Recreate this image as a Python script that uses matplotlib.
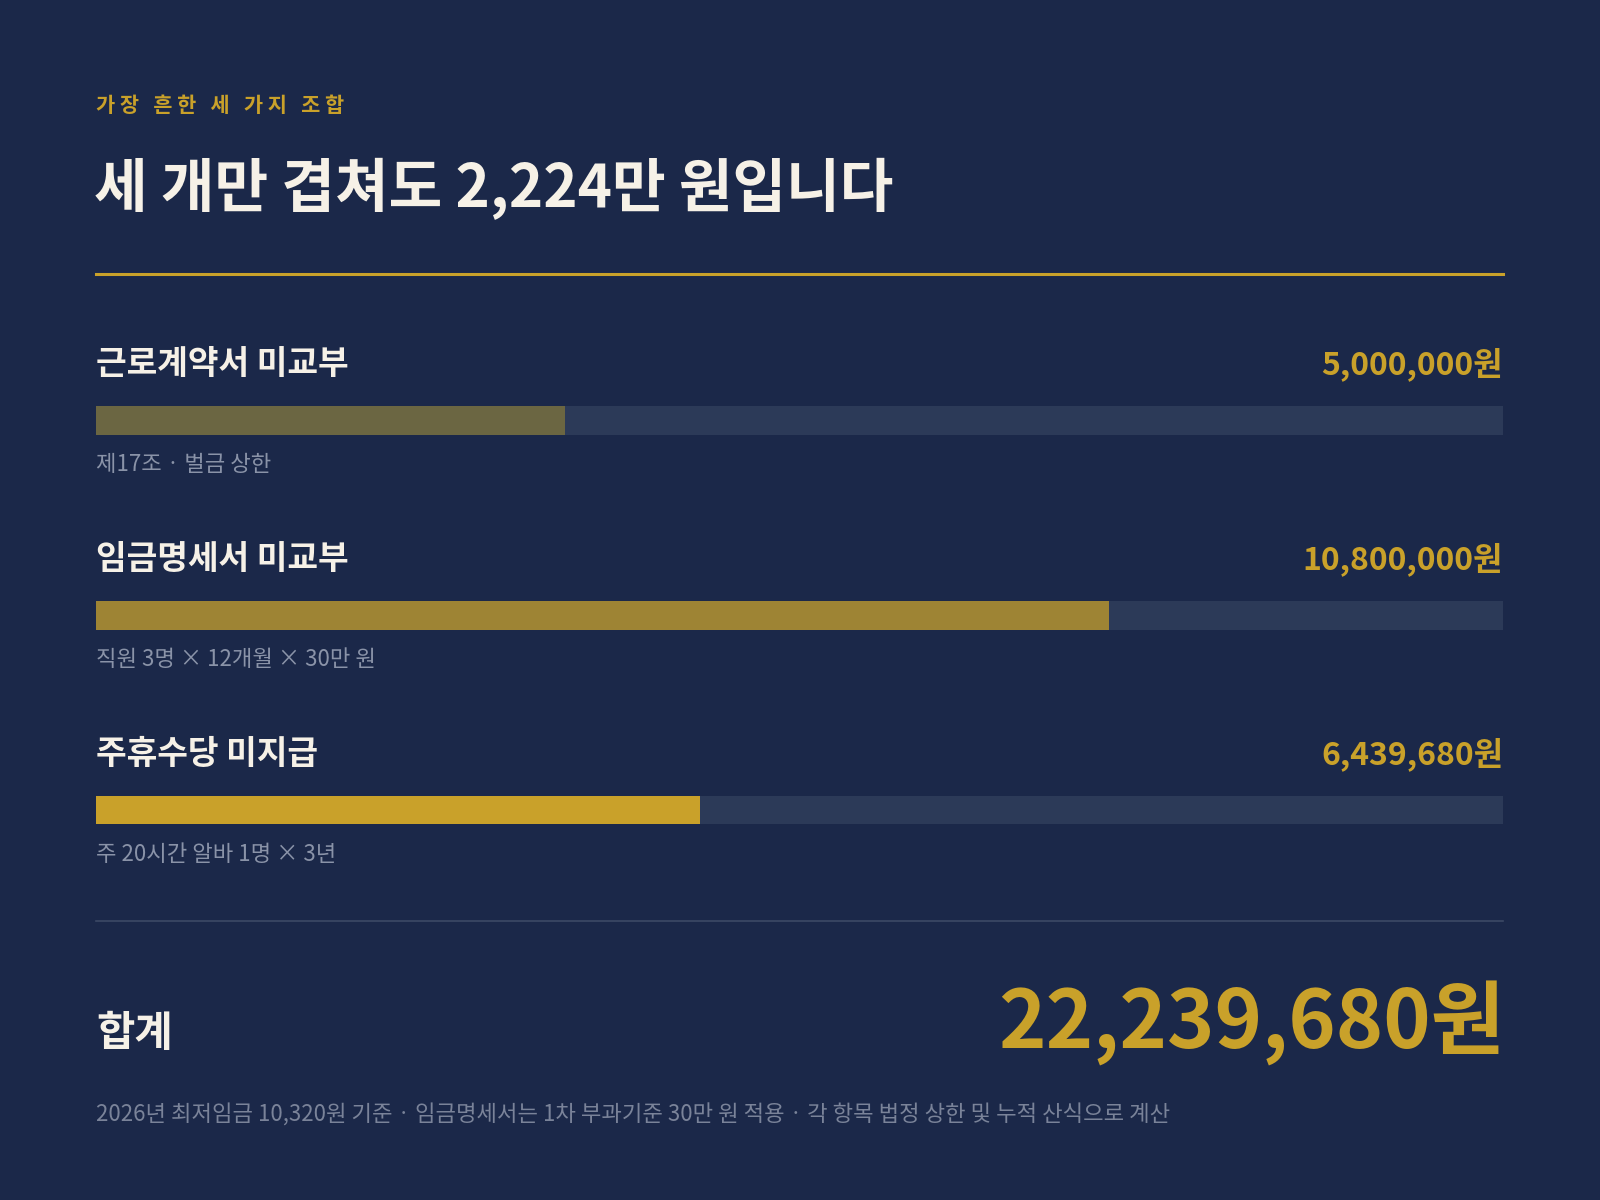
import matplotlib
matplotlib.use("Agg")
import matplotlib.pyplot as plt

plt.rcParams['font.family'] = ['Noto Sans CJK KR', 'DejaVu Sans']

labels = ["근로계약서 미교부", "임금명세서 미교부", "주휴수당 미지급"]
values = [5000000, 10800000, 6439680]
notes = ["제17조 · 벌금 상한", "직원 3명 × 12개월 × 30만 원", "주 20시간 알바 1명 × 3년"]
bar_colors = ["#6b6642", "#9e8434", "#c9a12a"]
scale_max = 15000000
total = sum(values)

BG = "#1b2849"; GOLD = "#c9a12a"; WHITE = "#f6f1e7"; GREY = "#8a93a8"; TRACK = "#2c3a58"
W, H = 1568, 1176
fig = plt.figure(figsize=(16, 12), dpi=100, facecolor=BG)

def fx(x): return x / W
def fy(y): return 1 - y / H

fig.text(fx(94), fy(103), "가 장   흔 한   세   가 지   조 합", color=GOLD, fontsize=15,
         fontweight='bold', va='center')
fig.text(fx(92), fy(185), "세 개만 겹쳐도 2,224만 원입니다", color=WHITE, fontsize=42,
         fontweight='bold', va='center')
fig.add_artist(plt.Line2D([fx(94), fx(1473)], [fy(269), fy(269)], color=GOLD, lw=2.2))

tops = [357, 548, 739]
for i, (lab, v, n, c) in enumerate(zip(labels, values, notes, bar_colors)):
    t = tops[i]
    fig.text(fx(94), fy(t), lab, color=WHITE, fontsize=24, fontweight='bold', va='center')
    fig.text(fx(1473), fy(t), f"{v:,}원", color=GOLD, fontsize=23, fontweight='bold',
             va='center', ha='right')
    ax = fig.add_axes([fx(94), fy(t + 69), fx(1473) - fx(94), (28) / H])
    ax.set_facecolor(BG)
    ax.barh([0], [scale_max], color=TRACK, height=1)
    ax.barh([0], [v], color=c, height=1)
    ax.set_xlim(0, scale_max); ax.set_ylim(-0.5, 0.5)
    ax.axis('off')
    fig.text(fx(94), fy(t + 98), n, color=GREY, fontsize=16, va='center')

fig.add_artist(plt.Line2D([fx(94), fx(1473)], [fy(903), fy(903)], color="#3c4965", lw=1.2))
fig.text(fx(94), fy(1013), "합계", color=WHITE, fontsize=30, fontweight='bold', va='center')
fig.text(fx(1475), fy(1003), f"{total:,}원", color=GOLD, fontsize=58, fontweight='bold',
         va='center', ha='right')
fig.text(fx(94), fy(1093),
         "2026년 최저임금 10,320원 기준 · 임금명세서는 1차 부과기준 30만 원 적용 · 각 항목 법정 상한 및 누적 산식으로 계산",
         color="#7a8399", fontsize=16, va='center')

fig.savefig("out.png", facecolor=BG)
